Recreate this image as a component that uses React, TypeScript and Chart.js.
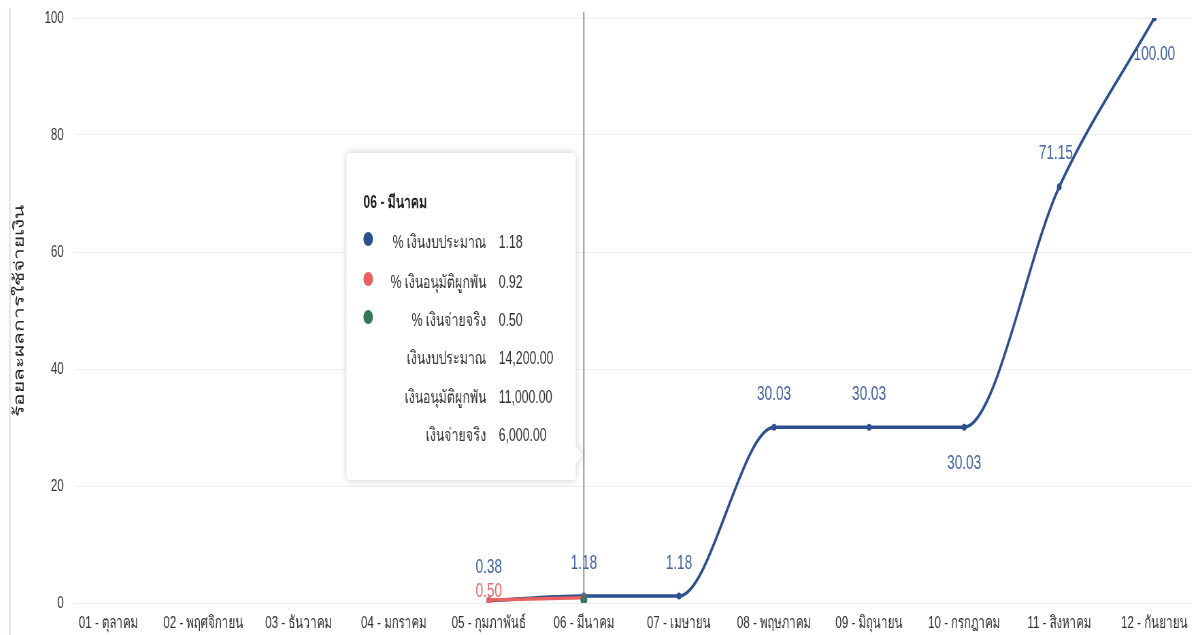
import React, { useEffect, useRef } from "react";
import { Chart, registerables } from "chart.js";

Chart.register(...registerables);

const months = [
  "01 - ตุลาคม",
  "02 - พฤศจิกายน",
  "03 - ธันวาคม",
  "04 - มกราคม",
  "05 - กุมภาพันธ์",
  "06 - มีนาคม",
  "07 - เมษายน",
  "08 - พฤษภาคม",
  "09 - มิถุนายน",
  "10 - กรกฎาคม",
  "11 - สิงหาคม",
  "12 - กันยายน",
];

const budgetPct = [null, null, null, null, 0.38, 1.18, 1.18, 30.03, 30.03, 30.03, 71.15, 100.0];
const committedPct = [null, null, null, null, 0.5, 0.92, null, null, null, null, null, null];
const paidPct = [null, null, null, null, null, 0.5, null, null, null, null, null, null];

const seriesNames = ["% เงินงบประมาณ", "% เงินอนุมัติผูกพัน", "% เงินจ่ายจริง"];
const amountNames = ["เงินงบประมาณ", "เงินอนุมัติผูกพัน", "เงินจ่ายจริง"];
const hoverIndex = 5;
const hoverAmounts = [14200, 11000, 6000];

const yTicks = [0, 20, 40, 60, 80, 100];
const yTitle = "ร้อยละผลการใช้จ่ายเงิน";

const BLUE = "#2c4f8f";
const RED = "#e8605f";
const GREEN = "#2f7a55";
const FONT = "'Liberation Sans', Arimo, 'Noto Sans', sans-serif";

// horizontal squeeze of the whole drawing
const SQ = 0.68;
const OUTER_W = 1187;
const H = 627;

// label placement per point for the blue series
const blueLabelPlace = ["t", "t", "t", "t", "t", "t", "t", "t", "t", "b", "tl", "b"];

const toPts = (arr: (number | null)[]) => arr.map((y, i) => ({ x: i, y }));

const fmt2 = (v: number) =>
  v.toLocaleString("en-US", { minimumFractionDigits: 2, maximumFractionDigits: 2 });

const labelPlugin = {
  id: "valueLabels",
  afterDatasetsDraw(chart: any) {
    const ctx = chart.ctx;
    ctx.save();
    ctx.font = `20px ${FONT}`;
    ctx.textAlign = "center";
    ctx.textBaseline = "middle";
    const mb = chart.getDatasetMeta(0);
    mb.data.forEach((pt: any, i: number) => {
      const v = budgetPct[i];
      if (v == null) return;
      const place = blueLabelPlace[i];
      let dx = 0;
      let dy = -33;
      if (place === "b") dy = 36;
      if (place === "tl") dx = -5;
      ctx.fillStyle = "#4464a4";
      ctx.fillText(fmt2(v), pt.x + dx, pt.y + dy);
    });
    const mr = chart.getDatasetMeta(1);
    const firstRed = committedPct.findIndex((v) => v != null);
    if (firstRed >= 0) {
      const pt = mr.data[firstRed];
      ctx.fillStyle = "#e86a6a";
      ctx.fillText(fmt2(committedPct[firstRed] as number), pt.x, pt.y - 9);
    }
    ctx.restore();
  },
};

const tooltipPlugin = {
  id: "fixedTooltip",
  afterDraw(chart: any) {
    const ctx = chart.ctx;
    const area = chart.chartArea;
    const px = chart.scales.x.getPixelForValue(hoverIndex);
    // crosshair
    ctx.save();
    ctx.strokeStyle = "#6f6f6f";
    ctx.lineWidth = 1.5;
    ctx.beginPath();
    ctx.moveTo(px, area.top - 6);
    ctx.lineTo(px, area.bottom);
    ctx.stroke();
    ctx.restore();

    const w = 337;
    const h = 327;
    const bx = px - 12 - w;
    const by = 145;
    ctx.save();
    ctx.shadowColor = "rgba(0,0,0,0.2)";
    ctx.shadowBlur = 10;
    ctx.fillStyle = "#ffffff";
    const r = 5;
    const cy = by + h - 25;
    ctx.beginPath();
    ctx.moveTo(bx + r, by);
    ctx.lineTo(bx + w - r, by);
    ctx.quadraticCurveTo(bx + w, by, bx + w, by + r);
    ctx.lineTo(bx + w, cy - 9);
    ctx.lineTo(bx + w + 10, cy);
    ctx.lineTo(bx + w, cy + 9);
    ctx.lineTo(bx + w, by + h - r);
    ctx.quadraticCurveTo(bx + w, by + h, bx + w - r, by + h);
    ctx.lineTo(bx + r, by + h);
    ctx.quadraticCurveTo(bx, by + h, bx, by + h - r);
    ctx.lineTo(bx, by + r);
    ctx.quadraticCurveTo(bx, by, bx + r, by);
    ctx.closePath();
    ctx.fill();
    ctx.restore();

    ctx.save();
    ctx.textBaseline = "middle";
    ctx.fillStyle = "#222";
    ctx.font = `bold 18px ${FONT}`;
    ctx.textAlign = "left";
    ctx.fillText(months[hoverIndex], bx + 25, by + 50);

    const pctVals = [budgetPct[hoverIndex], committedPct[hoverIndex], paidPct[hoverIndex]];
    const colors = [BLUE, RED, GREEN];
    const rowY = [90, 130, 168, 206, 245, 283];
    const labelRight = bx + 206;
    const valueLeft = bx + 224;
    ctx.font = `18px ${FONT}`;
    for (let k = 0; k < 3; k++) {
      const y = by + rowY[k];
      ctx.fillStyle = colors[k];
      ctx.beginPath();
      ctx.arc(bx + 32, y - 4, 7, 0, Math.PI * 2);
      ctx.fill();
      ctx.fillStyle = "#333";
      ctx.textAlign = "right";
      ctx.fillText(seriesNames[k], labelRight, y);
      ctx.textAlign = "left";
      ctx.fillText(fmt2(pctVals[k] as number), valueLeft, y);
    }
    for (let k = 0; k < 3; k++) {
      const y = by + rowY[k + 3];
      ctx.fillStyle = "#333";
      ctx.textAlign = "right";
      ctx.fillText(amountNames[k], labelRight, y);
      ctx.textAlign = "left";
      ctx.fillText(fmt2(hoverAmounts[k]), valueLeft, y);
    }
    ctx.restore();
  },
};

const noPad = (scale: any) => {
  scale.paddingTop = 0;
  scale.paddingBottom = 0;
  scale.paddingLeft = 0;
  scale.paddingRight = 0;
};

export default function App() {
  const ref = useRef<HTMLCanvasElement | null>(null);

  useEffect(() => {
    if (!ref.current) return;
    const chart = new Chart(ref.current, {
      type: "line",
      data: {
        datasets: [
          {
            label: seriesNames[0],
            data: toPts(budgetPct) as any,
            borderColor: BLUE,
            backgroundColor: BLUE,
            borderWidth: 3.5,
            pointRadius: 3.5,
            pointBorderWidth: 0,
            cubicInterpolationMode: "monotone",
            order: 3,
          },
          {
            label: seriesNames[1],
            data: toPts(committedPct) as any,
            borderColor: RED,
            backgroundColor: RED,
            borderWidth: 3.5,
            pointRadius: 3.5,
            pointBorderWidth: 0,
            cubicInterpolationMode: "monotone",
            order: 2,
          },
          {
            label: seriesNames[2],
            data: toPts(paidPct) as any,
            borderColor: GREEN,
            backgroundColor: GREEN,
            borderWidth: 3,
            pointRadius: 5,
            pointBorderWidth: 0,
            order: 1,
          },
        ],
      },
      options: {
        animation: false,
        responsive: true,
        maintainAspectRatio: false,
        events: [],
        layout: { padding: { top: 10, right: 0, left: 0, bottom: 0 } },
        plugins: {
          legend: { display: false },
          tooltip: { enabled: false },
          title: { display: false },
        },
        scales: {
          x: {
            type: "linear",
            min: -0.355,
            max: 11.399,
            grid: { display: false, drawTicks: false },
            border: { display: false },
            afterBuildTicks: (scale: any) => {
              scale.ticks = months.map((_, i) => ({ value: i }));
            },
            afterFit: (scale: any) => {
              scale.height = 32;
              noPad(scale);
            },
            ticks: {
              autoSkip: false,
              maxRotation: 0,
              padding: 10,
              color: "#333",
              font: { family: FONT, size: 17 },
              callback: (v: any) => months[v as number] ?? "",
            },
          },
          y: {
            min: 0,
            max: 100,
            afterBuildTicks: (scale: any) => {
              scale.ticks = yTicks.map((v) => ({ value: v }));
            },
            afterFit: (scale: any) => {
              scale.width = 98;
              noPad(scale);
            },
            grid: { color: "#eeeeee", drawTicks: false },
            border: { display: false },
            ticks: {
              padding: 16,
              color: "#333",
              font: { family: FONT, size: 17 },
            },
            title: {
              display: true,
              text: yTitle,
              color: "#222",
              padding: { top: 5, bottom: 0 },
              font: { family: FONT, size: 21 },
            },
          },
        },
      },
      plugins: [labelPlugin, tooltipPlugin],
    });
    return () => chart.destroy();
  }, []);

  return (
    <div style={{ position: "relative", width: 1195, height: H, overflow: "hidden" }}>
      <div
        style={{
          position: "absolute",
          left: 0,
          top: 0,
          width: OUTER_W / SQ,
          height: H,
          transform: `scaleX(${SQ})`,
          transformOrigin: "0 0",
        }}
      >
        <canvas ref={ref} />
      </div>
      <div
        style={{
          position: "absolute",
          left: 1,
          top: 0,
          width: 2,
          height: H,
          background: "#dde9f9",
        }}
      />
      <div
        style={{
          position: "absolute",
          left: 1191,
          top: 0,
          width: 2,
          height: H,
          background: "#dde9f9",
        }}
      />
    </div>
  );
}
